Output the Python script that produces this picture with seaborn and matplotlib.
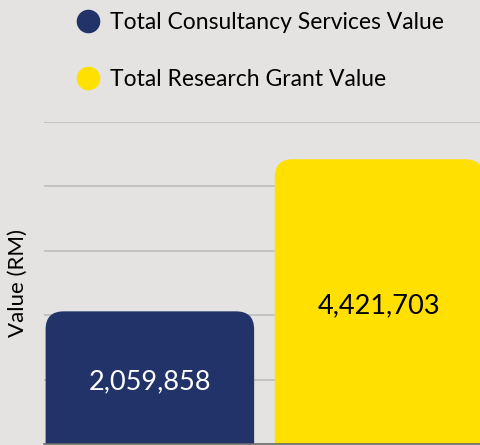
import matplotlib
matplotlib.use('Agg')
import matplotlib.pyplot as plt
import seaborn as sns
import pandas as pd
from matplotlib.patches import FancyBboxPatch
from matplotlib.lines import Line2D

categories = ['Total Consultancy Services Value', 'Total Research Grant Value']
values = [2059858, 4421703]
colors = ['#22336a', '#ffe000']
label_colors = ['white', 'black']

bg = '#e4e3e1'

sns.set_theme(style='whitegrid')
plt.rcParams['font.family'] = ['Lato', 'DejaVu Sans']
plt.rcParams['text.color'] = 'black'

df = pd.DataFrame({'category': categories, 'value': values})

fig = plt.figure(figsize=(4.81, 4.45), dpi=100, facecolor=bg)
ax = fig.add_axes([44 / 481, 1 / 445, 437 / 481, 322 / 445])
ax.set_facecolor(bg)

sns.barplot(data=df, x='category', y='value', hue='category', palette=colors,
            width=0.91, saturation=1, legend=False, ax=ax, zorder=2)

xlim = (-0.462, 1.445)
ax.set_ylim(0, 5000000)
ax.set_xlim(*xlim)
ax.set_yticks([1000000, 2000000, 3000000, 4000000, 5000000])

# px -> data conversions for rounded corners
fig.canvas.draw()
bbox = ax.get_window_extent()
x_per_px = (xlim[1] - xlim[0]) / bbox.width
y_per_px = 5000000 / bbox.height
radius_px = 18

for i, p in enumerate(list(ax.patches)):
    x0, w, h = p.get_x(), p.get_width(), p.get_height()
    fc = p.get_facecolor()
    p.remove()
    r = radius_px * x_per_px
    extra = radius_px * 2 * y_per_px
    rb = FancyBboxPatch((x0, -extra), w, h + extra,
                        boxstyle='round,pad=0,rounding_size=%f' % r,
                        mutation_aspect=y_per_px / x_per_px,
                        facecolor=fc, edgecolor='none', zorder=2)
    ax.add_patch(rb)
    ax.text(x0 + w / 2, h / 2 - 4 * y_per_px, '{:,}'.format(values[i]), ha='center', va='center',
            fontsize=19.5, color=label_colors[i], zorder=3)

ax.grid(axis='y', color='#bdbdbd', linewidth=1.2)
ax.grid(axis='x', visible=False)
ax.set_xticks([])
ax.tick_params(left=False, bottom=False, labelleft=False)
for s in ['top', 'right', 'left']:
    ax.spines[s].set_visible(False)
ax.spines['bottom'].set_color('#6a6a6a')
ax.spines['bottom'].set_linewidth(1.2)
ax.spines['bottom'].set_zorder(4)
ax.set_xlabel('')
ax.set_ylabel('Value (RM)', fontsize=16, color='black')
ax.yaxis.set_label_coords(-0.036, 0.5)

handles = [Line2D([], [], marker='o', linestyle='none', markersize=17,
                  markerfacecolor=c, markeredgecolor='none') for c in colors]
leg = fig.legend(handles, categories, loc='upper left', bbox_to_anchor=(54 / 481, 1 + 9 / 445),
                 frameon=False, fontsize=16.5, labelspacing=1.6, handletextpad=0.35,
                 handlelength=1.2, borderaxespad=0.5)
for t in leg.get_texts():
    t.set_color('black')

fig.savefig('out.png', dpi=100, facecolor=bg)
